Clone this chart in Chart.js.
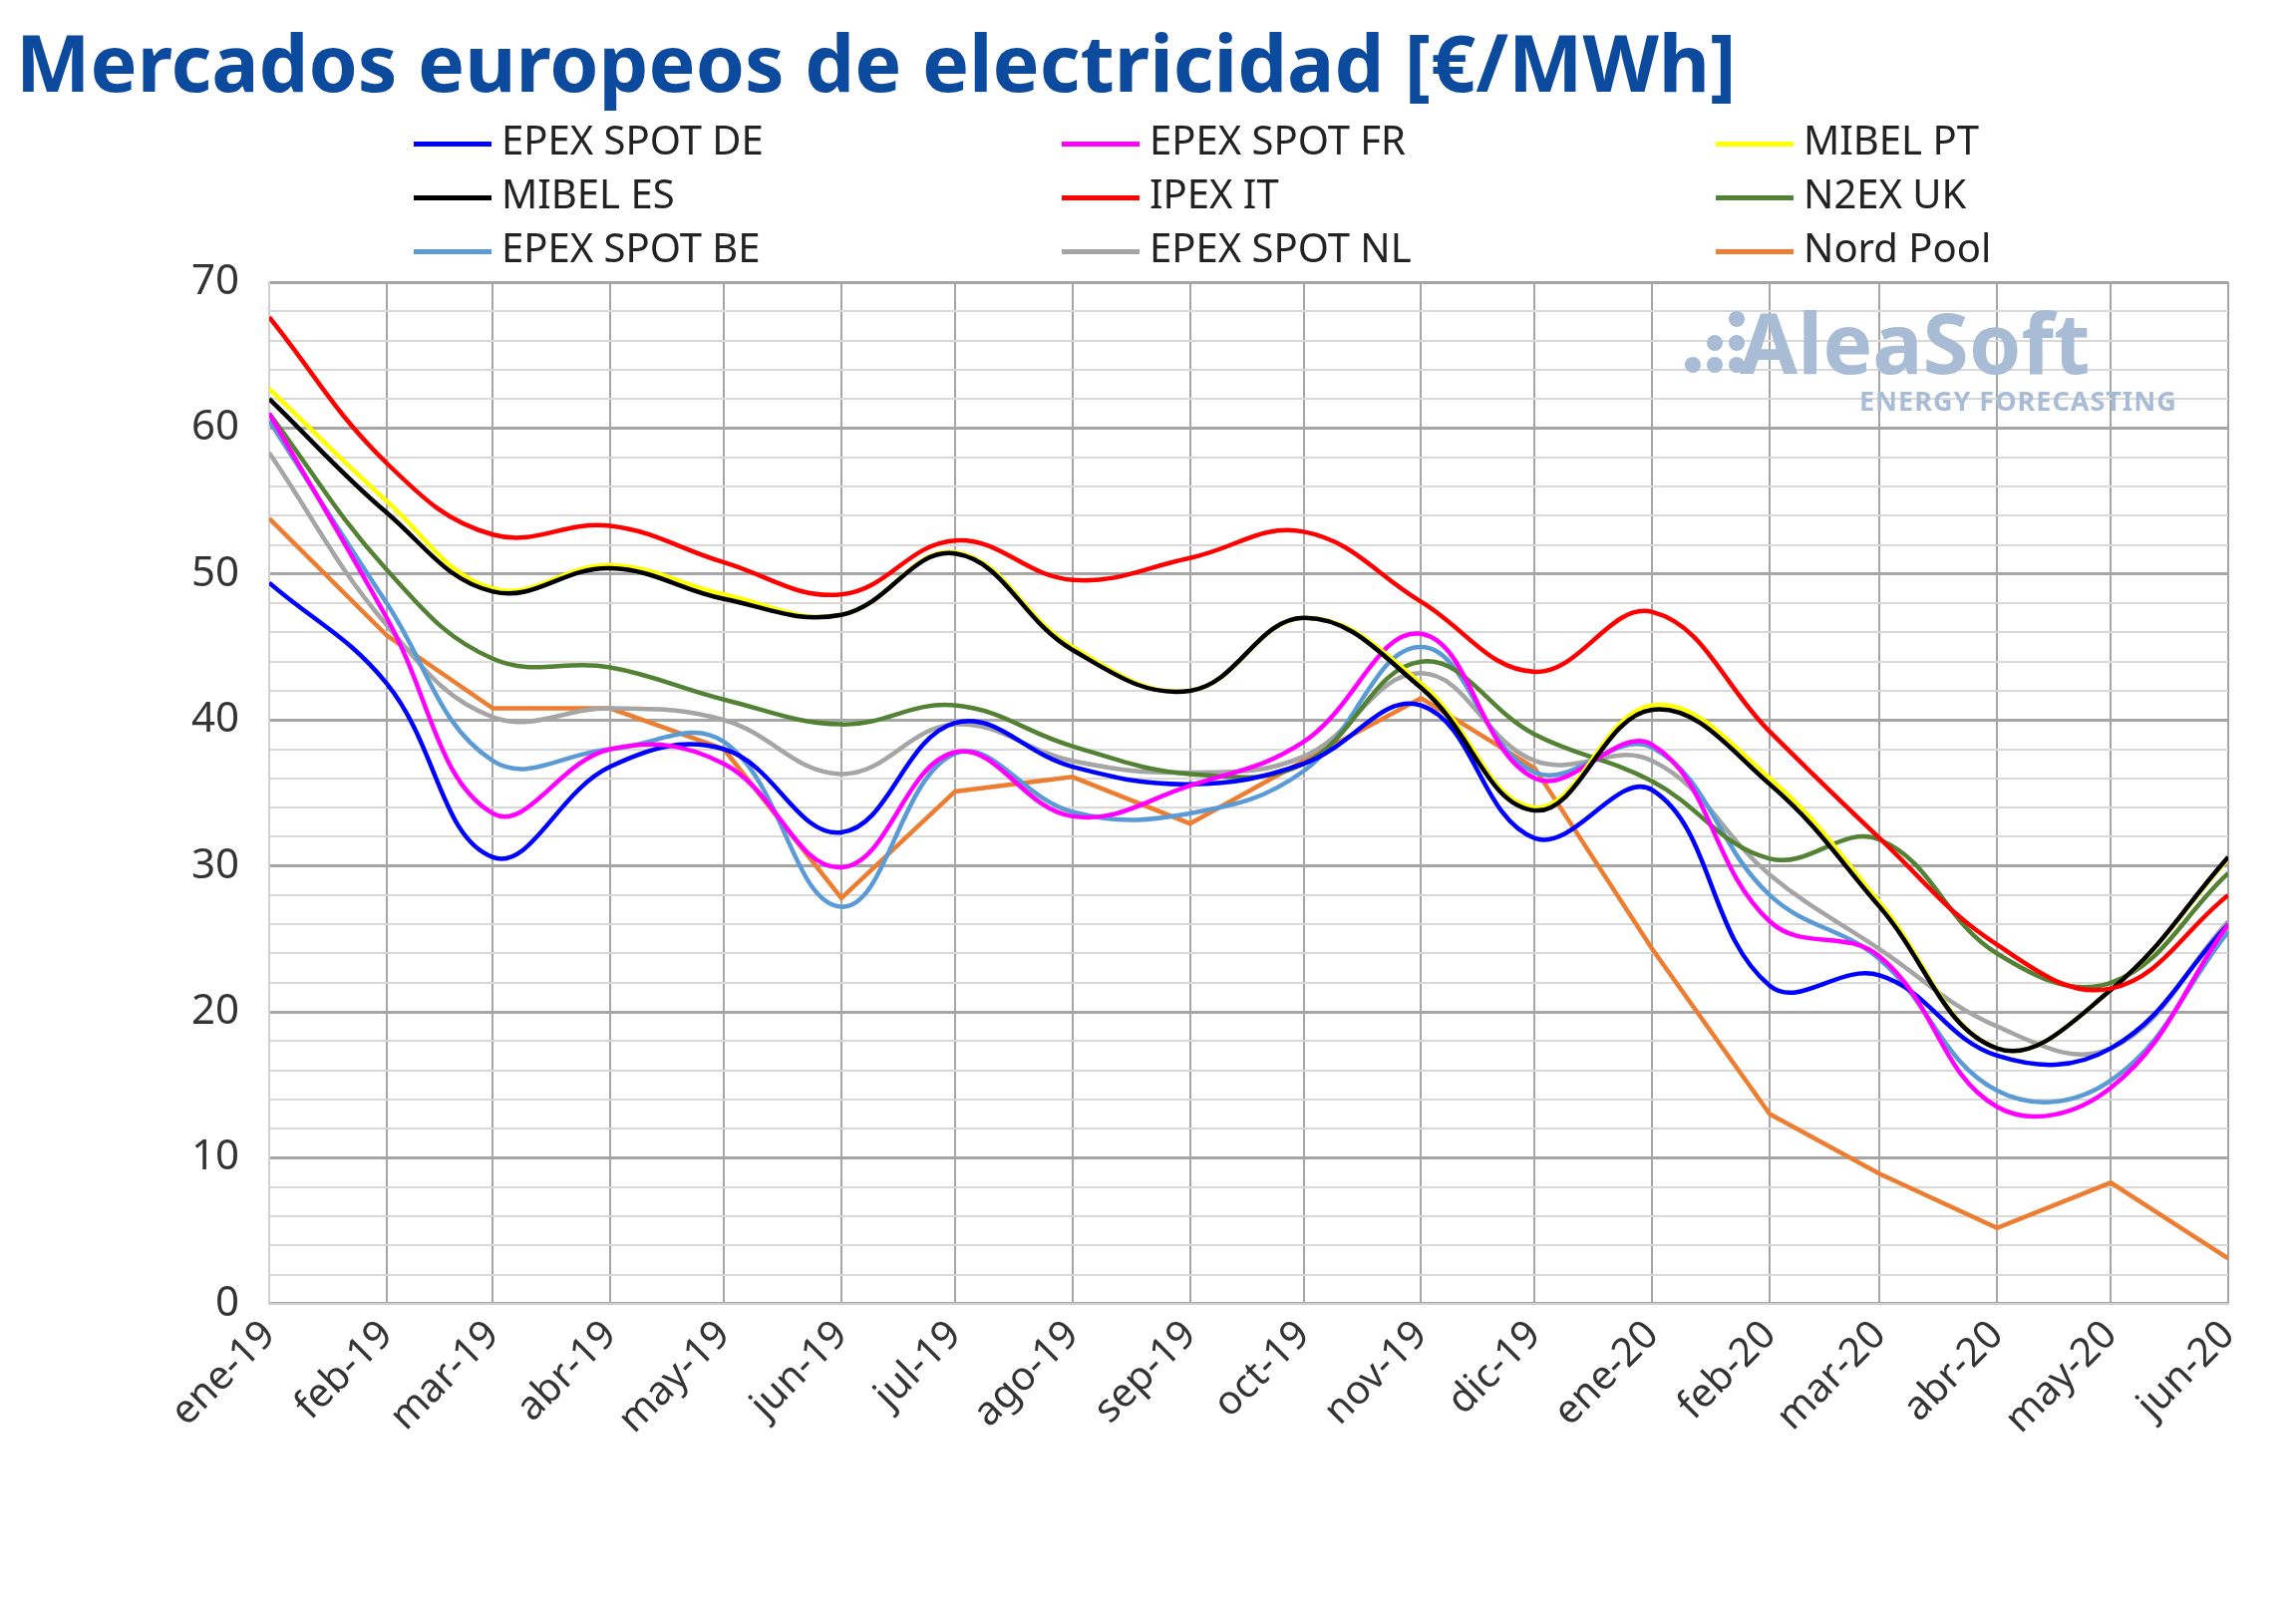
<!DOCTYPE html>
<html>
<head>
<meta charset="utf-8">
<script src="https://cdn.jsdelivr.net/npm/chart.js@4"></script>
<style>
  body { margin: 0; background: #fff; font-family: "Noto Sans", sans-serif; }
  #wrap { position: relative; width: 2303px; height: 1606px; }
  #title { position: absolute; left: 16px; top: 8px; font: bold 79px "Noto Sans", sans-serif; color: #0b4a9c; white-space: nowrap; }
  .leg { position: absolute; font-size: 40px; color: #222; white-space: nowrap; }
  .leg span { display: inline-block; width: 78px; height: 5px; vertical-align: middle; margin-right: 10px; }
  #logo { position: absolute; left: 1745px; top: 285px; font: bold 84px "Noto Sans", sans-serif; color: #a9bcd6; }
  #logo2 { position: absolute; left: 1865px; top: 383px; font: bold 27px "Noto Sans", sans-serif; color: #a9bcd6; letter-spacing: 1px; }
  .dot { position: absolute; width: 16px; height: 16px; border-radius: 50%; background: #a9bcd6; }
  canvas { position: absolute; left: 0; top: 0; }
</style>
</head>
<body>
<div id="wrap">
  <canvas id="c" width="2303" height="1606"></canvas>
  <div id="title">Mercados europeos de electricidad [€/MWh]</div>
  <div id="legend"></div>
  <div id="logo">AleaSoft</div>
  <div id="logo2">ENERGY FORECASTING</div>
  <div class="dot" style="left:1690px;top:358px"></div>
  <div class="dot" style="left:1712px;top:358px"></div>
  <div class="dot" style="left:1734px;top:358px"></div>
  <div class="dot" style="left:1712px;top:336px"></div>
  <div class="dot" style="left:1734px;top:336px"></div>
  <div class="dot" style="left:1734px;top:312px"></div>
</div>
<script>
// month labels and day offsets from 1 Jan 2019
const months = ['ene-19','feb-19','mar-19','abr-19','may-19','jun-19','jul-19','ago-19','sep-19','oct-19','nov-19','dic-19','ene-20','feb-20','mar-20','abr-20','may-20','jun-20'];
const monthDays = [0,31,59,90,120,151,181,212,243,273,304,334,365,396,425,456,486,517];

const epexDE = [49.4,42.5,30.6,36.8,38.0,32.3,39.8,36.8,35.6,37.0,41.0,31.9,35.2,21.8,22.5,17.0,17.5,26.0];
const epexFR = [61.0,47.0,33.6,38.0,37.0,29.9,37.8,33.4,35.5,38.5,45.9,36.0,38.3,26.2,23.8,13.5,14.8,26.0];
const mibelPT = [62.7,55.0,49.0,50.6,48.6,47.2,51.5,45.0,42.0,47.0,42.5,34.0,41.0,36.0,27.5,17.5,21.5,30.5];
const mibelES = [62.0,54.2,48.8,50.4,48.3,47.2,51.4,44.8,42.0,47.0,42.2,33.8,40.7,35.6,27.2,17.5,21.5,30.6];
const ipexIT = [67.6,57.6,52.7,53.3,50.8,48.6,52.3,49.6,51.1,52.9,48.1,43.3,47.4,39.2,31.9,24.6,21.6,28.0];
const n2exUK = [61.0,50.3,44.2,43.6,41.4,39.7,41.0,38.2,36.3,37.0,44.0,39.0,35.8,30.5,31.8,24.0,22.0,29.5];
const epexBE = [60.5,48.0,37.2,38.0,38.5,27.2,37.7,33.7,33.6,36.5,45.0,36.4,38.1,28.0,23.6,14.6,15.3,25.5];
const epexNL = [58.3,46.5,40.2,40.8,40.0,36.3,39.7,37.2,36.4,37.5,43.2,37.2,37.2,29.4,24.3,19.0,17.5,26.2];
const nordPool = [53.8,45.8,40.8,40.8,38.0,27.8,35.1,36.1,32.9,37.2,41.5,36.7,24.3,13.0,8.9,5.2,8.3,3.1];

const series = [
  { label: 'EPEX SPOT DE', data: epexDE, color: '#0000ff' },
  { label: 'EPEX SPOT FR', data: epexFR, color: '#ff00ff' },
  { label: 'MIBEL PT', data: mibelPT, color: '#ffff00' },
  { label: 'MIBEL ES', data: mibelES, color: '#000000' },
  { label: 'IPEX IT', data: ipexIT, color: '#ff0000' },
  { label: 'N2EX UK', data: n2exUK, color: '#548235' },
  { label: 'EPEX SPOT BE', data: epexBE, color: '#5b9bd5' },
  { label: 'EPEX SPOT NL', data: epexNL, color: '#a5a5a5' },
  { label: 'Nord Pool', data: nordPool, color: '#ed7d31', straight: true }
];

// legend, 3 columns
const legX = [415, 1065, 1721], legY = [112, 166, 220];
const legend = document.getElementById('legend');
series.forEach((s, i) => {
  const d = document.createElement('div');
  d.className = 'leg';
  d.style.left = legX[i % 3] + 'px';
  d.style.top = legY[Math.floor(i / 3)] + 'px';
  d.innerHTML = '<span style="background:' + s.color + '"></span>' + s.label;
  legend.appendChild(d);
});

// painting order, first painted first (ES over PT, IT on top)
const paintOrder = [8, 7, 6, 5, 0, 1, 2, 3, 4];

new Chart(document.getElementById('c'), {
  type: 'line',
  data: {
    datasets: series.map((s, i) => ({
      label: s.label,
      data: s.data.map((v, k) => ({ x: monthDays[k], y: v })),
      borderColor: s.color,
      borderWidth: 4.5,
      pointRadius: 0,
      tension: s.straight ? 0 : 0.4,
      order: series.length - paintOrder.indexOf(i)
    }))
  },
  options: {
    responsive: false,
    animation: false,
    layout: { padding: { left: 162, right: 68, top: 283, bottom: 150 } },
    plugins: { legend: { display: false }, tooltip: { enabled: false } },
    scales: {
      x: {
        type: 'linear',
        min: 0, max: 517,
        afterBuildTicks: axis => { axis.ticks = monthDays.map(v => ({ value: v })); },
        ticks: {
          autoSkip: false, maxRotation: 45, minRotation: 45, padding: 8,
          color: '#333', font: { size: 40, family: 'Noto Sans' },
          callback: (v) => months[monthDays.indexOf(v)]
        },
        grid: { color: '#a6a6a6', lineWidth: 2, drawTicks: false },
        border: { color: '#d0d0d0', width: 2 }
      },
      y: {
        min: 0, max: 70,
        afterBuildTicks: axis => {
          const t = [];
          for (let v = 0; v <= 70; v += 2) t.push({ value: v });
          axis.ticks = t;
        },
        ticks: {
          autoSkip: false, padding: 30,
          color: '#333', font: { size: 42, family: 'Noto Sans' },
          callback: v => (v % 10 === 0 ? v : '')
        },
        grid: {
          drawTicks: false,
          color: c => (c.tick && c.tick.value % 10 === 0 ? '#a6a6a6' : '#d9d9d9'),
          lineWidth: c => (c.tick && c.tick.value % 10 === 0 ? 3 : 2)
        },
        border: { color: '#d0d0d0', width: 2 }
      }
    }
  }
});
</script>
</body>
</html>
